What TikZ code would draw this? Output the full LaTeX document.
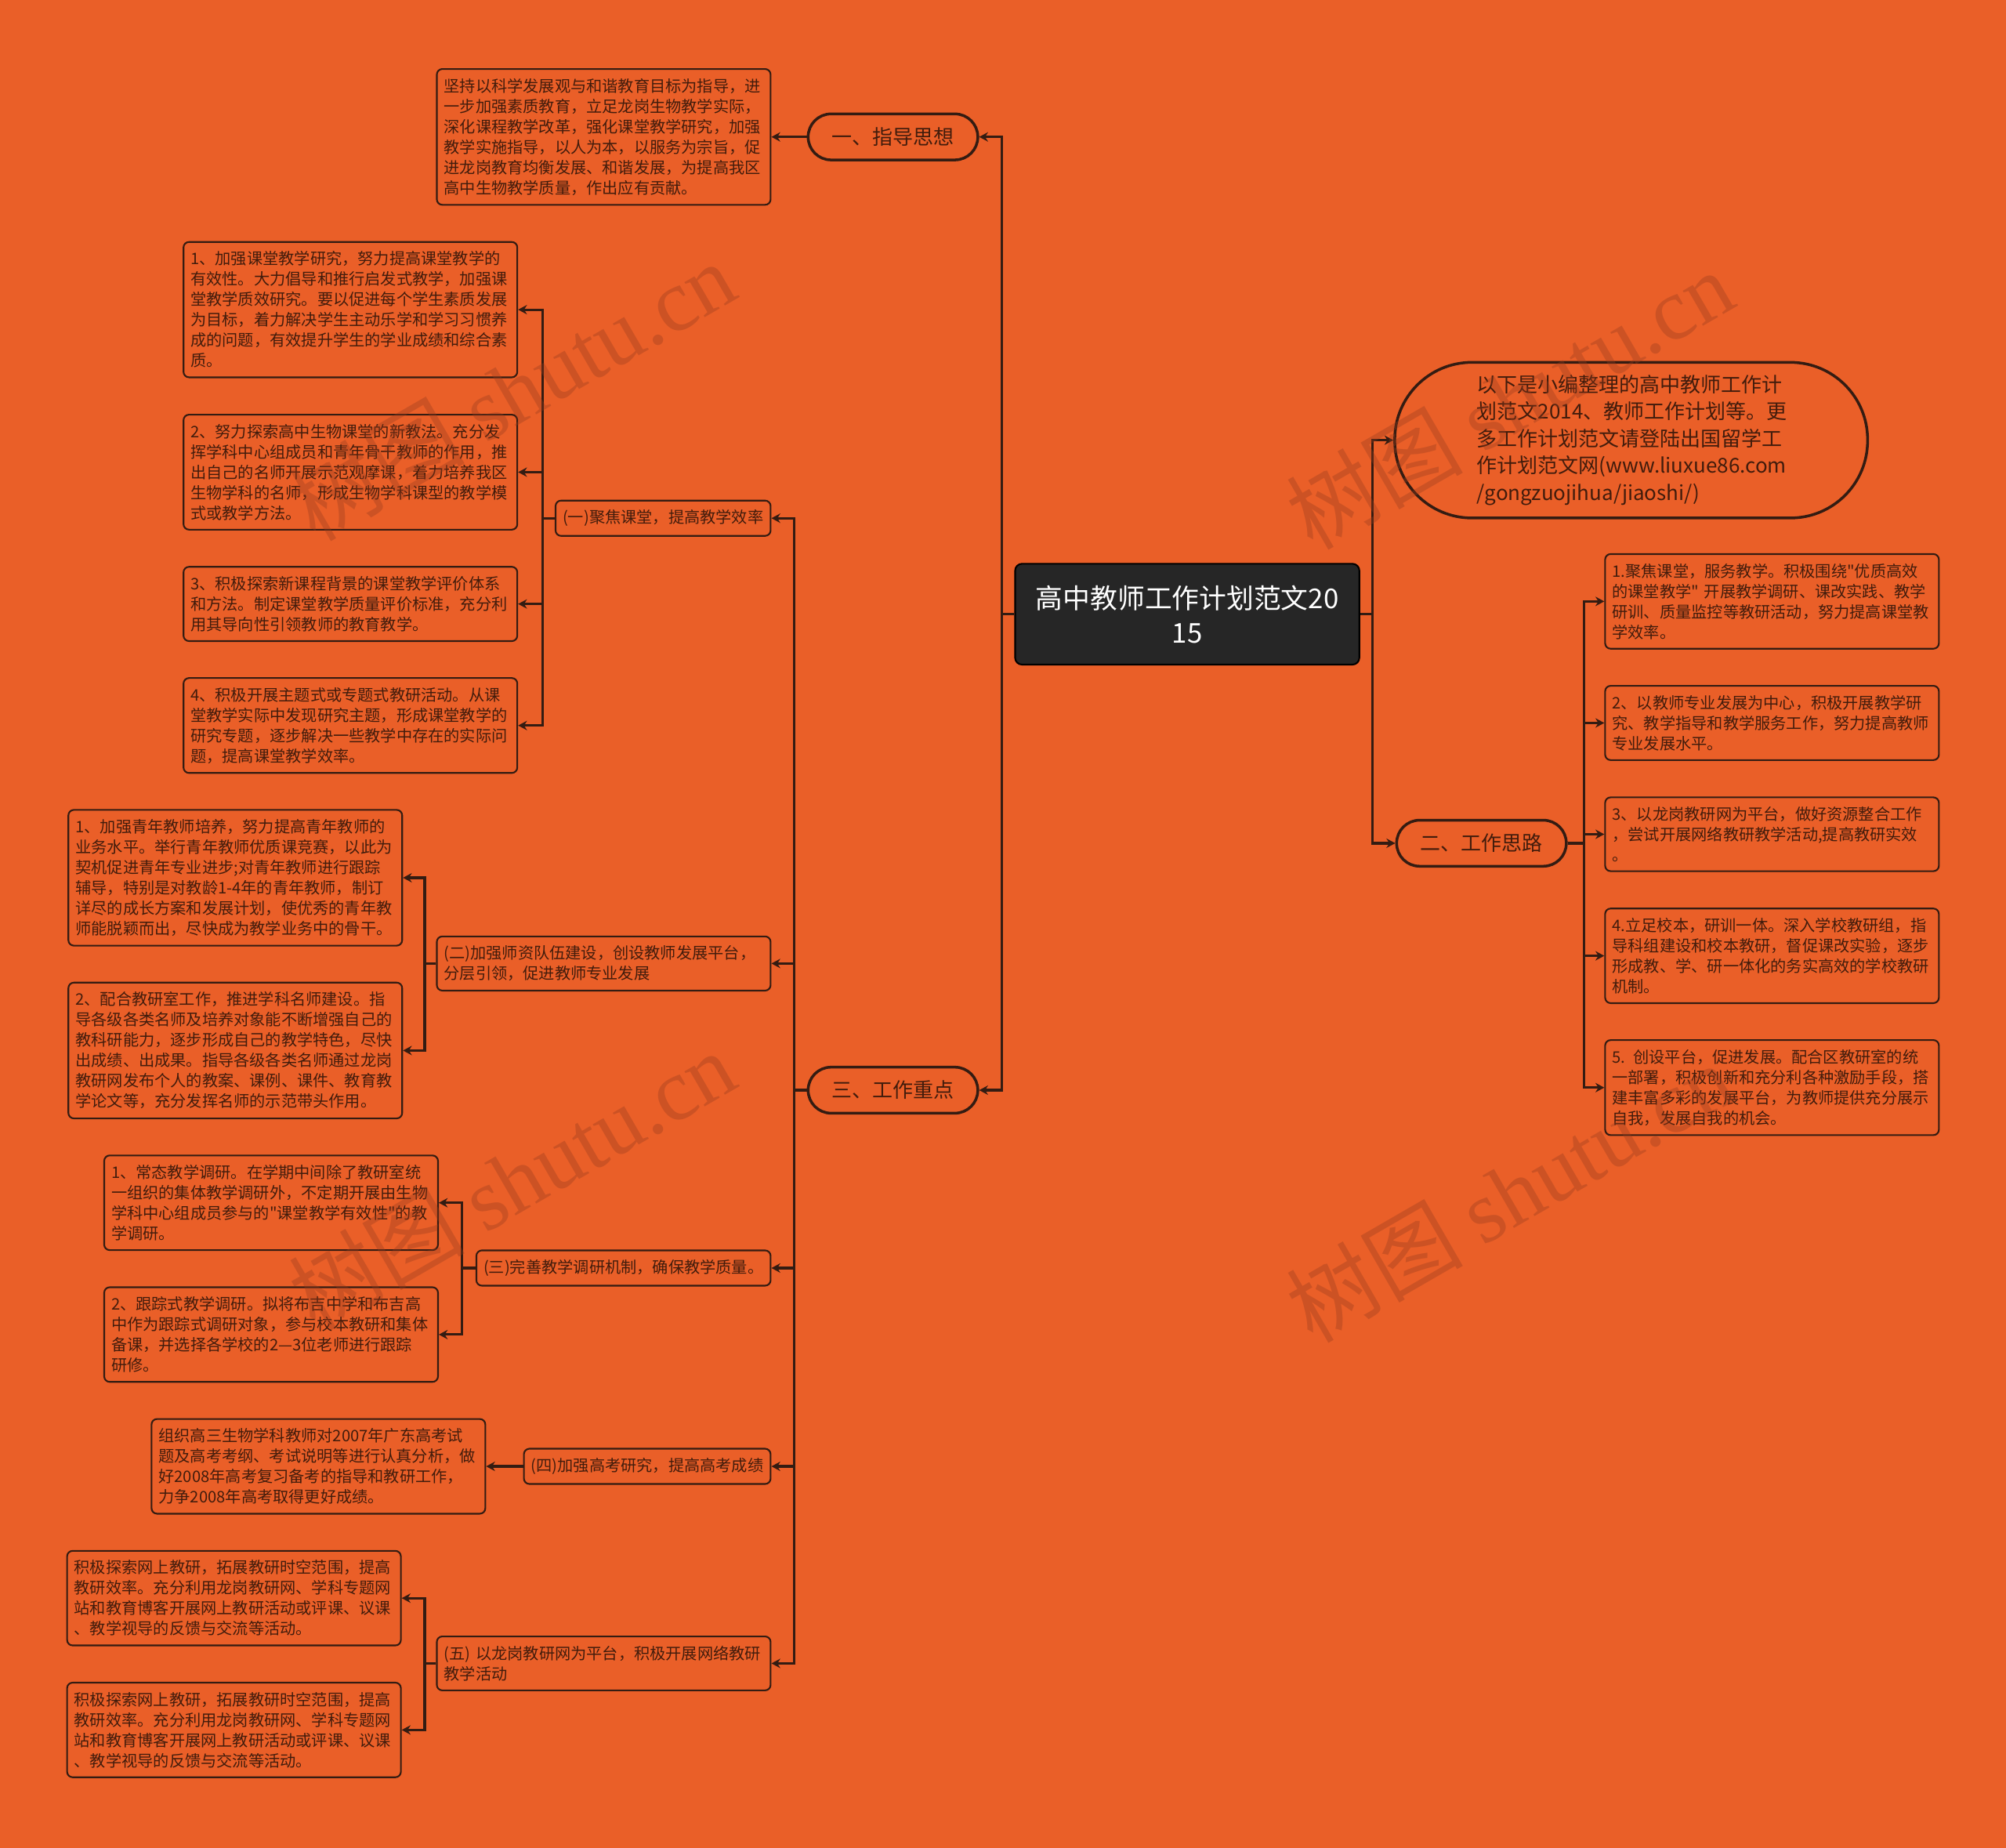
\documentclass[tikz,border=0pt]{standalone}
\usepackage{fontspec}
\setmainfont{Noto Sans CJK SC}[Ligatures=TeXOff]
\newfontfamily\markfont{Liberation Serif}
\usetikzlibrary{arrows.meta}
\definecolor{BgClr}{RGB}{234,95,40}
\definecolor{LineClr}{RGB}{52,28,18}
\definecolor{TextClr}{RGB}{66,28,12}
\definecolor{RootClr}{RGB}{38,38,38}
\definecolor{MarkClr}{RGB}{150,60,30}

\tikzset{
  box/.style={draw=LineClr,line width=.6pt,rounded corners=2pt,text=TextClr,
    font=\fontsize{5.75pt}{7.4pt}\selectfont,align=left,inner xsep=2.6pt,inner ysep=3.4pt},
  wbox/.style={box,text width=116pt},
  topic/.style={draw=LineClr,line width=1pt,rounded corners=8.3pt,text=TextClr,
    font=\fontsize{7.4pt}{9pt}\selectfont,minimum width=61.6pt,minimum height=16.7pt,inner sep=0pt},
  conn/.style={draw=LineClr,line width=.9pt,-{Stealth[length=3.2pt,width=3.4pt]}},
  wmark/.style={text=MarkClr,opacity=.35,rotate=30,font=\fontsize{32pt}{32pt}\selectfont}
}

\begin{document}
\begin{tikzpicture}[x=0.016327cm,y=-0.016327cm]
\fill[BgClr] (0,0) rectangle (1568,1444);
\useasboundingbox (0,0) rectangle (1568,1444);

\node[box,draw=black,fill=RootClr,text=white,font=\fontsize{9.9pt}{12.5pt}\selectfont,align=center,
  minimum width=125pt,minimum height=36.6pt,rounded corners=2.5pt] (Root) at (928,480) {高中教师工作计划范文20\\15};

\node[topic] (G1) at (698,107) {一、指导思想};
\node[topic] (G2) at (1158,659) {二、工作思路};
\node[topic] (G3) at (698,852) {三、工作重点};

\node[topic,font=\fontsize{7.4pt}{9.8pt}\selectfont,text width=112pt,align=left,minimum width=171.7pt,
  minimum height=56.5pt,rounded corners=28pt] (N0) at (1275,344)
  {以下是小编整理的高中教师工作计\\划范文2014、教师工作计划等。更\\多工作计划范文请登陆出国留学工\\作计划范文网(www.liuxue86.com\\/gongzuojihua/jiaoshi/)};

\node[wbox,anchor=west] (R1) at (1254,470) {1.聚焦课堂，服务教学。积极围绕"优质高效\\的课堂教学"~开展教学调研、课改实践、教学\\研训、质量监控等教研活动，努力提高课堂教\\学效率。};
\node[wbox,anchor=west] (R2) at (1254,565) {2、以教师专业发展为中心，积极开展教学研\\究、教学指导和教学服务工作，努力提高教师\\专业发展水平。};
\node[wbox,anchor=west] (R3) at (1254,652) {3、以龙岗教研网为平台，做好资源整合工作\\，尝试开展网络教研教学活动,提高教研实效\\。};
\node[wbox,anchor=west] (R4) at (1254,747) {4.立足校本，研训一体。深入学校教研组，指\\导科组建设和校本教研，督促课改实验，逐步\\形成教、学、研一体化的务实高效的学校教研\\机制。};
\node[wbox,anchor=west] (R5) at (1254,850) {5. 创设平台，促进发展。配合区教研室的统\\一部署，积极创新和充分利各种激励手段，搭\\建丰富多彩的发展平台，为教师提供充分展示\\自我，发展自我的机会。};

\node[wbox,anchor=east] (T1) at (603,107) {坚持以科学发展观与和谐教育目标为指导，进\\一步加强素质教育，立足龙岗生物教学实际，\\深化课程教学改革，强化课堂教学研究，加强\\教学实施指导，以人为本，以服务为宗旨，促\\进龙岗教育均衡发展、和谐发展，为提高我区\\高中生物教学质量，作出应有贡献。};

\node[box,anchor=east] (S1) at (603,405) {(一)聚焦课堂，提高教学效率};
\node[wbox,anchor=east] (S2) at (603,753) {(二)加强师资队伍建设，创设教师发展平台，\\分层引领，促进教师专业发展};
\node[box,anchor=east] (S3) at (603,991) {(三)完善教学调研机制，确保教学质量。};
\node[box,anchor=east] (S4) at (603,1146) {(四)加强高考研究，提高高考成绩};
\node[wbox,anchor=east] (S5) at (603,1300) {(五) 以龙岗教研网为平台，积极开展网络教研\\教学活动};

\node[wbox,anchor=east] (C11) at (405,242) {1、加强课堂教学研究，努力提高课堂教学的\\有效性。大力倡导和推行启发式教学，加强课\\堂教学质效研究。要以促进每个学生素质发展\\为目标，着力解决学生主动乐学和学习习惯养\\成的问题，有效提升学生的学业成绩和综合素\\质。};
\node[wbox,anchor=east] (C12) at (405,369) {2、努力探索高中生物课堂的新教法。充分发\\挥学科中心组成员和青年骨干教师的作用，推\\出自己的名师开展示范观摩课，着力培养我区\\生物学科的名师，形成生物学科课型的教学模\\式或教学方法。};
\node[wbox,anchor=east] (C13) at (405,472) {3、积极探索新课程背景的课堂教学评价体系\\和方法。制定课堂教学质量评价标准，充分利\\用其导向性引领教师的教育教学。};
\node[wbox,anchor=east] (C14) at (405,567) {4、积极开展主题式或专题式教研活动。从课\\堂教学实际中发现研究主题，形成课堂教学的\\研究专题，逐步解决一些教学中存在的实际问\\题，提高课堂教学效率。};

\node[wbox,anchor=east] (C21) at (315,686) {1、加强青年教师培养，努力提高青年教师的\\业务水平。举行青年教师优质课竞赛，以此为\\契机促进青年专业进步;对青年教师进行跟踪\\辅导，特别是对教龄1-4年的青年教师，制订\\详尽的成长方案和发展计划，使优秀的青年教\\师能脱颖而出，尽快成为教学业务中的骨干。};
\node[wbox,anchor=east] (C22) at (315,821) {2、配合教研室工作，推进学科名师建设。指\\导各级各类名师及培养对象能不断增强自己的\\教科研能力，逐步形成自己的教学特色，尽快\\出成绩、出成果。指导各级各类名师通过龙岗\\教研网发布个人的教案、课例、课件、教育教\\学论文等，充分发挥名师的示范带头作用。};

\node[wbox,anchor=east] (C31) at (343,940) {1、常态教学调研。在学期中间除了教研室统\\一组织的集体教学调研外，不定期开展由生物\\学科中心组成员参与的"课堂教学有效性"的教\\学调研。};
\node[wbox,anchor=east] (C32) at (343,1043) {2、跟踪式教学调研。拟将布吉中学和布吉高\\中作为跟踪式调研对象，参与校本教研和集体\\备课，并选择各学校的2—3位老师进行跟踪\\研修。};

\node[wbox,anchor=east] (C41) at (380,1146) {组织高三生物学科教师对2007年广东高考试\\题及高考考纲、考试说明等进行认真分析，做\\好2008年高考复习备考的指导和教研工作，\\力争2008年高考取得更好成绩。};

\node[wbox,anchor=east] (C51) at (314,1249) {积极探索网上教研，拓展教研时空范围，提高\\教研效率。充分利用龙岗教研网、学科专题网\\站和教育博客开展网上教研活动或评课、议课\\、教学视导的反馈与交流等活动。};
\node[wbox,anchor=east] (C52) at (314,1352) {积极探索网上教研，拓展教研时空范围，提高\\教研效率。充分利用龙岗教研网、学科专题网\\站和教育博客开展网上教研活动或评课、议课\\、教学视导的反馈与交流等活动。};

\coordinate (B0) at (783,0);
\coordinate (B1) at (1073,0);
\coordinate (B2) at (1238,0);
\coordinate (B3) at (621,0);
\coordinate (B4) at (424,0);
\coordinate (B5) at (332,0);
\coordinate (B6) at (361,0);

\foreach \c in {G1,G3} \draw[conn] (Root.west) -- (Root.west -| B0) |- (\c.east);
\foreach \c in {N0,G2} \draw[conn] (Root.east) -- (Root.east -| B1) |- (\c.west);
\foreach \i in {1,...,5} \draw[conn] (G2.east) -- (G2.east -| B2) |- (R\i.west);
\draw[conn] (G1.west) -- (T1.east);
\foreach \i in {1,...,5} \draw[conn] (G3.west) -- (G3.west -| B3) |- (S\i.east);
\foreach \i in {1,...,4} \draw[conn] (S1.west) -- (S1.west -| B4) |- (C1\i.east);
\foreach \i in {1,2} \draw[conn] (S2.west) -- (S2.west -| B5) |- (C2\i.east);
\foreach \i in {1,2} \draw[conn] (S3.west) -- (S3.west -| B6) |- (C3\i.east);
\draw[conn] (S4.west) -- (C41.east);
\foreach \i in {1,2} \draw[conn] (S5.west) -- (S5.west -| B5) |- (C5\i.east);

\foreach \x/\y in {400/305,1180/312,400/922,1180/932}
  \node[wmark] at (\x,\y) {树图 {\markfont shutu.cn}};
\end{tikzpicture}
\end{document}
